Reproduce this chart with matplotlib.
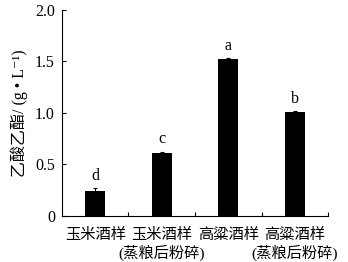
import numpy as np
import matplotlib.pyplot as plt
import matplotlib.transforms as mtransforms

plt.rcParams['font.family'] = ['Liberation Serif', 'Noto Sans CJK SC', 'DejaVu Serif']

categories = ["玉米酒样", "玉米酒样", "高粱酒样", "高粱酒样"]
sublabels = ["", "(蒸粮后粉碎)", "", "(蒸粮后粉碎)"]
values = [0.24, 0.61, 1.52, 1.01]
errors = [0.03, 0.015, 0.015, 0.012]
letters = ["d", "c", "a", "b"]

fig = plt.figure(figsize=(3.48, 2.62), dpi=100)
ax = fig.add_axes([0.178, 0.176, 0.765, 0.786])

x = np.arange(1, len(values) + 1)
ax.bar(x, values, width=0.3, color="black", yerr=errors,
       error_kw=dict(ecolor="black", elinewidth=0.8, capsize=1.5, capthick=0.8))

for xi, v, e, l in zip(x, values, errors, letters):
    ax.text(xi, v + e + 0.04, l, ha="center", va="bottom", fontsize=11.5)

ax.set_xlim(0.5, 4.5)
ax.set_ylim(0, 2.0)
ax.set_yticks([0, 0.5, 1.0, 1.5, 2.0])
ax.set_yticklabels(["0", "0.5", "1.0", "1.5", "2.0"], fontsize=11.5)
ax.set_xticks(x)
ax.set_xticklabels(categories, fontsize=11)
ax.set_xticks([1.5, 2.5, 3.5, 4.5], minor=True)
ax.tick_params(axis="x", which="major", length=0, pad=9)
ax.tick_params(axis="x", which="minor", direction="in", length=3, width=0.8)
ax.tick_params(axis="y", direction="in", length=3, width=0.8, pad=5)

# second line of the two-line category labels
trans = mtransforms.blended_transform_factory(ax.transData, ax.transAxes)
for xi, s in zip(x, sublabels):
    if s:
        ax.text(xi, -0.18, s, transform=trans, ha="center", va="center", fontsize=11)

ax.spines["top"].set_visible(False)
ax.spines["right"].set_visible(False)
for s in ["left", "bottom"]:
    ax.spines[s].set_linewidth(0.8)

ax.set_ylabel("乙酸乙酯/ (g • L⁻¹)", fontsize=11.5, labelpad=5)

fig.savefig("out.png", dpi=100)
